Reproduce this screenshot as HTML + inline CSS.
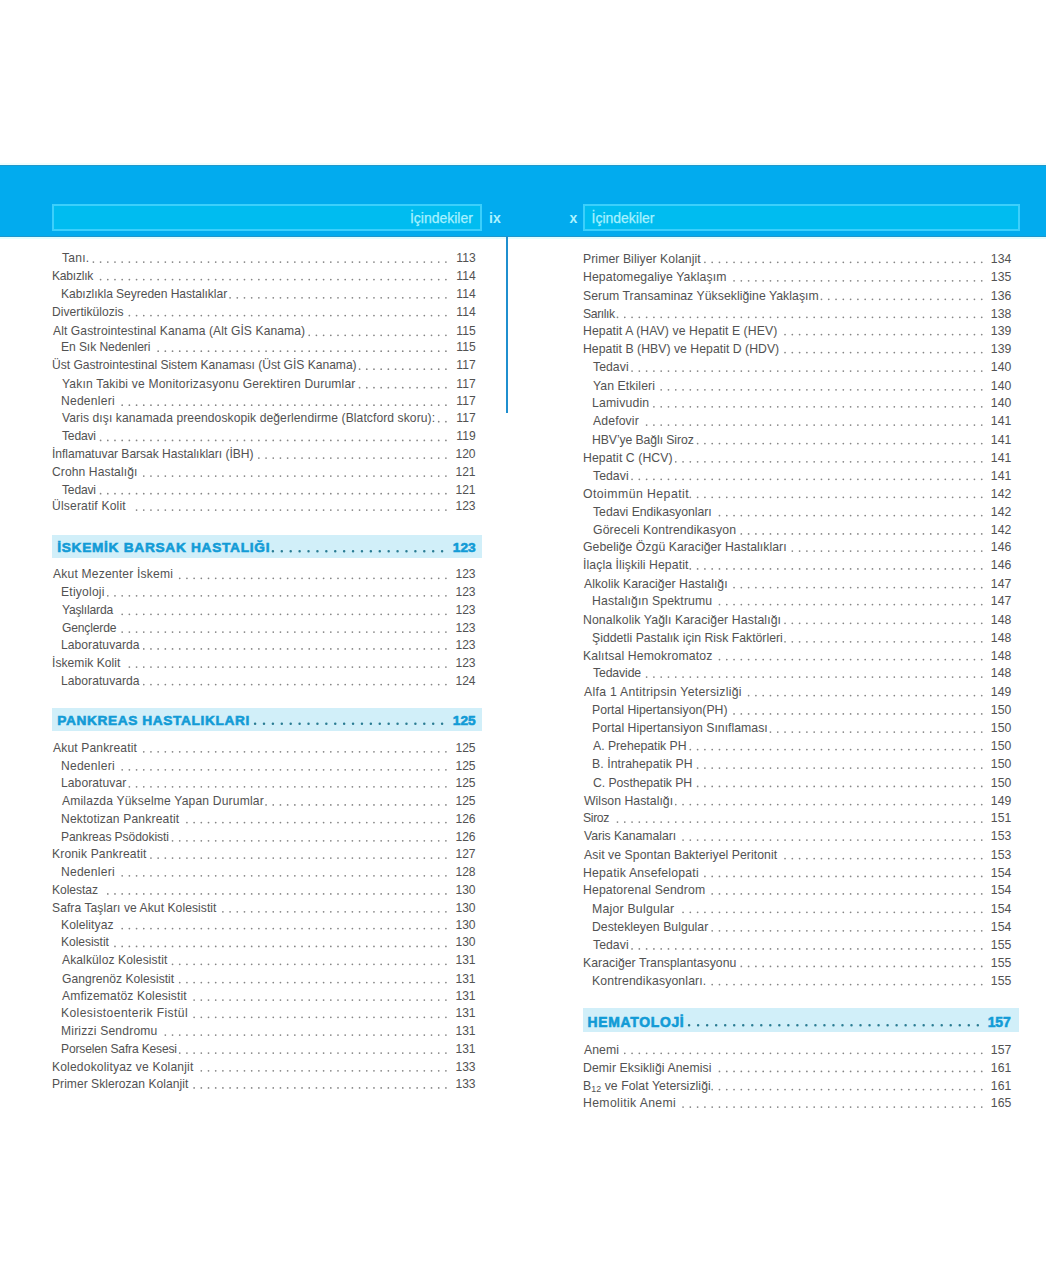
<!DOCTYPE html>
<html lang="tr"><head><meta charset="utf-8"><title>İçindekiler</title>
<style>
html,body{margin:0;padding:0;background:#fff;}
body{width:1046px;height:1280px;position:relative;overflow:hidden;font-family:"Liberation Sans",Arial,sans-serif;color:#525252;}
.band{position:absolute;left:0;top:165px;width:1046px;height:71.5px;background:#02abee;border-top:1px solid #2198cb;border-bottom:1px solid #1f96cc;box-sizing:border-box;box-shadow:0 -2px 0 #effefe,0 2px 0 #e4fdfe;}
.box{position:absolute;top:204px;height:27px;box-sizing:border-box;border:2px solid #3ccffb;background:#00bcf0;}
.ic{position:absolute;font-size:14px;color:#a6f1ff;-webkit-text-stroke:0.25px #a6f1ff;line-height:16px;white-space:nowrap;}
.pn{position:absolute;font-weight:bold;font-size:14px;color:#aef4ff;line-height:16px;}
.vl{position:absolute;left:506px;top:236px;width:2px;height:177px;background:#1f8fcf;}
.t,.h{position:absolute;line-height:1.117;white-space:nowrap;}
.h{font-weight:bold;color:#129bd6;-webkit-text-stroke:0.6px #129bd6;}
.hb{position:absolute;background:#d1eff9;}
svg.dots{position:absolute;left:0;top:0;}
svg.dots line{stroke:#858585;stroke-width:1.75;stroke-linecap:round;}
svg.dots line.hd{stroke:#2a7c93;stroke-width:2.5;}
sub{font-size:0.72em;vertical-align:-2px;line-height:0;}
</style></head><body>
<div class="band"></div>
<div class="box" style="left:52px;width:430px"></div>
<div class="box" style="left:583px;width:437px"></div>
<div class="ic" style="right:573.1px;top:210px">İçindekiler</div>
<div class="pn" style="left:489px;top:210px">ix</div>
<div class="pn" style="left:569.5px;top:210px">x</div>
<div class="ic" style="left:591.5px;top:210px">İçindekiler</div>
<div class="vl"></div>
<div class="hb" style="left:52.4px;top:534.8px;width:429.9px;height:23.2px"></div>
<div class="hb" style="left:52.4px;top:708.0px;width:429.9px;height:22.8px"></div>
<div class="hb" style="left:582.7px;top:1008.2px;width:436.3px;height:23.6px"></div>
<svg class="dots" width="1046" height="1280" viewBox="0 0 1046 1280">
<line x1="93.40" x2="445.95" y1="262.00" y2="262.00" stroke-dasharray="0 7.194"/>
<line x1="100.59" x2="445.95" y1="279.50" y2="279.50" stroke-dasharray="0 7.194"/>
<line x1="230.09" x2="445.95" y1="297.80" y2="297.80" stroke-dasharray="0 7.194"/>
<line x1="129.37" x2="445.95" y1="315.60" y2="315.60" stroke-dasharray="0 7.194"/>
<line x1="309.22" x2="445.95" y1="335.30" y2="335.30" stroke-dasharray="0 7.194"/>
<line x1="158.15" x2="445.95" y1="351.20" y2="351.20" stroke-dasharray="0 7.194"/>
<line x1="359.58" x2="445.95" y1="369.20" y2="369.20" stroke-dasharray="0 7.194"/>
<line x1="359.58" x2="445.95" y1="387.70" y2="387.70" stroke-dasharray="0 7.194"/>
<line x1="122.18" x2="445.95" y1="405.20" y2="405.20" stroke-dasharray="0 7.194"/>
<line x1="438.71" x2="445.95" y1="421.70" y2="421.70" stroke-dasharray="0 7.194"/>
<line x1="100.59" x2="445.95" y1="440.40" y2="440.40" stroke-dasharray="0 7.194"/>
<line x1="258.86" x2="445.95" y1="458.00" y2="458.00" stroke-dasharray="0 7.194"/>
<line x1="143.76" x2="445.95" y1="476.10" y2="476.10" stroke-dasharray="0 7.194"/>
<line x1="100.59" x2="445.95" y1="493.70" y2="493.70" stroke-dasharray="0 7.194"/>
<line x1="136.56" x2="445.95" y1="510.10" y2="510.10" stroke-dasharray="0 7.194"/>
<line class="hd" x1="272.90" x2="442.15" y1="551.30" y2="551.30" stroke-dasharray="0 8.905"/>
<line x1="179.73" x2="445.95" y1="578.25" y2="578.25" stroke-dasharray="0 7.194"/>
<line x1="107.79" x2="445.95" y1="595.75" y2="595.75" stroke-dasharray="0 7.194"/>
<line x1="122.18" x2="445.95" y1="614.25" y2="614.25" stroke-dasharray="0 7.194"/>
<line x1="122.18" x2="445.95" y1="632.00" y2="632.00" stroke-dasharray="0 7.194"/>
<line x1="143.76" x2="445.95" y1="648.90" y2="648.90" stroke-dasharray="0 7.194"/>
<line x1="129.37" x2="445.95" y1="667.00" y2="667.00" stroke-dasharray="0 7.194"/>
<line x1="143.76" x2="445.95" y1="684.50" y2="684.50" stroke-dasharray="0 7.194"/>
<line class="hd" x1="255.09" x2="442.15" y1="723.75" y2="723.75" stroke-dasharray="0 8.905"/>
<line x1="143.76" x2="445.95" y1="751.75" y2="751.75" stroke-dasharray="0 7.194"/>
<line x1="122.18" x2="445.95" y1="769.75" y2="769.75" stroke-dasharray="0 7.194"/>
<line x1="129.37" x2="445.95" y1="786.75" y2="786.75" stroke-dasharray="0 7.194"/>
<line x1="266.06" x2="445.95" y1="804.90" y2="804.90" stroke-dasharray="0 7.194"/>
<line x1="186.92" x2="445.95" y1="822.60" y2="822.60" stroke-dasharray="0 7.194"/>
<line x1="172.53" x2="445.95" y1="840.75" y2="840.75" stroke-dasharray="0 7.194"/>
<line x1="150.95" x2="445.95" y1="858.00" y2="858.00" stroke-dasharray="0 7.194"/>
<line x1="122.18" x2="445.95" y1="875.75" y2="875.75" stroke-dasharray="0 7.194"/>
<line x1="107.79" x2="445.95" y1="893.90" y2="893.90" stroke-dasharray="0 7.194"/>
<line x1="222.89" x2="445.95" y1="911.75" y2="911.75" stroke-dasharray="0 7.194"/>
<line x1="122.18" x2="445.95" y1="928.60" y2="928.60" stroke-dasharray="0 7.194"/>
<line x1="114.98" x2="445.95" y1="946.40" y2="946.40" stroke-dasharray="0 7.194"/>
<line x1="172.53" x2="445.95" y1="964.25" y2="964.25" stroke-dasharray="0 7.194"/>
<line x1="179.73" x2="445.95" y1="982.50" y2="982.50" stroke-dasharray="0 7.194"/>
<line x1="194.12" x2="445.95" y1="1000.10" y2="1000.10" stroke-dasharray="0 7.194"/>
<line x1="194.12" x2="445.95" y1="1017.25" y2="1017.25" stroke-dasharray="0 7.194"/>
<line x1="165.34" x2="445.95" y1="1035.10" y2="1035.10" stroke-dasharray="0 7.194"/>
<line x1="179.73" x2="445.95" y1="1053.00" y2="1053.00" stroke-dasharray="0 7.194"/>
<line x1="201.31" x2="445.95" y1="1070.75" y2="1070.75" stroke-dasharray="0 7.194"/>
<line x1="194.12" x2="445.95" y1="1087.90" y2="1087.90" stroke-dasharray="0 7.194"/>
<line x1="704.90" x2="981.75" y1="262.25" y2="262.25" stroke-dasharray="0 7.285"/>
<line x1="734.04" x2="981.75" y1="280.75" y2="280.75" stroke-dasharray="0 7.285"/>
<line x1="821.46" x2="981.75" y1="299.25" y2="299.25" stroke-dasharray="0 7.285"/>
<line x1="617.48" x2="981.75" y1="317.25" y2="317.25" stroke-dasharray="0 7.285"/>
<line x1="785.03" x2="981.75" y1="334.50" y2="334.50" stroke-dasharray="0 7.285"/>
<line x1="785.03" x2="981.75" y1="352.60" y2="352.60" stroke-dasharray="0 7.285"/>
<line x1="632.05" x2="981.75" y1="371.00" y2="371.00" stroke-dasharray="0 7.285"/>
<line x1="661.19" x2="981.75" y1="389.75" y2="389.75" stroke-dasharray="0 7.285"/>
<line x1="653.91" x2="981.75" y1="406.75" y2="406.75" stroke-dasharray="0 7.285"/>
<line x1="646.62" x2="981.75" y1="425.10" y2="425.10" stroke-dasharray="0 7.285"/>
<line x1="697.62" x2="981.75" y1="443.50" y2="443.50" stroke-dasharray="0 7.285"/>
<line x1="675.76" x2="981.75" y1="461.75" y2="461.75" stroke-dasharray="0 7.285"/>
<line x1="632.05" x2="981.75" y1="479.25" y2="479.25" stroke-dasharray="0 7.285"/>
<line x1="690.33" x2="981.75" y1="497.25" y2="497.25" stroke-dasharray="0 7.285"/>
<line x1="719.47" x2="981.75" y1="515.50" y2="515.50" stroke-dasharray="0 7.285"/>
<line x1="741.32" x2="981.75" y1="533.90" y2="533.90" stroke-dasharray="0 7.285"/>
<line x1="792.32" x2="981.75" y1="551.00" y2="551.00" stroke-dasharray="0 7.285"/>
<line x1="690.33" x2="981.75" y1="568.90" y2="568.90" stroke-dasharray="0 7.285"/>
<line x1="734.04" x2="981.75" y1="587.60" y2="587.60" stroke-dasharray="0 7.285"/>
<line x1="719.47" x2="981.75" y1="604.50" y2="604.50" stroke-dasharray="0 7.285"/>
<line x1="785.03" x2="981.75" y1="623.25" y2="623.25" stroke-dasharray="0 7.285"/>
<line x1="785.03" x2="981.75" y1="641.75" y2="641.75" stroke-dasharray="0 7.285"/>
<line x1="719.47" x2="981.75" y1="659.50" y2="659.50" stroke-dasharray="0 7.285"/>
<line x1="646.62" x2="981.75" y1="677.00" y2="677.00" stroke-dasharray="0 7.285"/>
<line x1="748.61" x2="981.75" y1="695.50" y2="695.50" stroke-dasharray="0 7.285"/>
<line x1="734.04" x2="981.75" y1="713.90" y2="713.90" stroke-dasharray="0 7.285"/>
<line x1="770.46" x2="981.75" y1="732.00" y2="732.00" stroke-dasharray="0 7.285"/>
<line x1="690.33" x2="981.75" y1="749.50" y2="749.50" stroke-dasharray="0 7.285"/>
<line x1="697.62" x2="981.75" y1="768.00" y2="768.00" stroke-dasharray="0 7.285"/>
<line x1="697.62" x2="981.75" y1="786.40" y2="786.40" stroke-dasharray="0 7.285"/>
<line x1="675.76" x2="981.75" y1="804.50" y2="804.50" stroke-dasharray="0 7.285"/>
<line x1="617.48" x2="981.75" y1="822.00" y2="822.00" stroke-dasharray="0 7.285"/>
<line x1="683.05" x2="981.75" y1="840.10" y2="840.10" stroke-dasharray="0 7.285"/>
<line x1="785.03" x2="981.75" y1="858.50" y2="858.50" stroke-dasharray="0 7.285"/>
<line x1="704.90" x2="981.75" y1="876.40" y2="876.40" stroke-dasharray="0 7.285"/>
<line x1="712.18" x2="981.75" y1="893.90" y2="893.90" stroke-dasharray="0 7.285"/>
<line x1="683.05" x2="981.75" y1="912.25" y2="912.25" stroke-dasharray="0 7.285"/>
<line x1="712.18" x2="981.75" y1="930.75" y2="930.75" stroke-dasharray="0 7.285"/>
<line x1="632.05" x2="981.75" y1="948.90" y2="948.90" stroke-dasharray="0 7.285"/>
<line x1="741.32" x2="981.75" y1="966.40" y2="966.40" stroke-dasharray="0 7.285"/>
<line x1="712.18" x2="981.75" y1="984.50" y2="984.50" stroke-dasharray="0 7.285"/>
<line class="hd" x1="689.10" x2="977.85" y1="1025.25" y2="1025.25" stroke-dasharray="0 9.022"/>
<line x1="624.77" x2="981.75" y1="1053.25" y2="1053.25" stroke-dasharray="0 7.285"/>
<line x1="719.47" x2="981.75" y1="1071.40" y2="1071.40" stroke-dasharray="0 7.285"/>
<line x1="712.18" x2="981.75" y1="1089.50" y2="1089.50" stroke-dasharray="0 7.285"/>
<line x1="683.05" x2="981.75" y1="1107.00" y2="1107.00" stroke-dasharray="0 7.285"/>
</svg>
<div class="t" id="L0" style="left:62.00px;top:252.00px;font-size:12.1px;letter-spacing:0.250px">Tanı.</div>
<div class="t n" style="right:570.40px;top:252.00px;font-size:12.1px">113</div>
<div class="t" id="L1" style="left:52.00px;top:269.50px;font-size:12.1px;letter-spacing:-0.243px">Kabızlık</div>
<div class="t n" style="right:570.40px;top:269.50px;font-size:12.1px">114</div>
<div class="t" id="L2" style="left:61.00px;top:287.80px;font-size:12.1px;letter-spacing:-0.063px">Kabızlıkla Seyreden Hastalıklar</div>
<div class="t n" style="right:570.40px;top:287.80px;font-size:12.1px">114</div>
<div class="t" id="L3" style="left:52.00px;top:305.60px;font-size:12.1px;letter-spacing:0.031px">Divertikülozis</div>
<div class="t n" style="right:570.40px;top:305.60px;font-size:12.1px">114</div>
<div class="t" id="L4" style="left:53.00px;top:325.30px;font-size:12.1px;letter-spacing:0.095px">Alt Gastrointestinal Kanama (Alt GİS Kanama)</div>
<div class="t n" style="right:570.40px;top:325.30px;font-size:12.1px">115</div>
<div class="t" id="L5" style="left:61.00px;top:341.20px;font-size:12.1px;letter-spacing:-0.087px">En Sık Nedenleri</div>
<div class="t n" style="right:570.40px;top:341.20px;font-size:12.1px">115</div>
<div class="t" id="L6" style="left:52.00px;top:359.20px;font-size:12.1px;letter-spacing:-0.023px">Üst Gastrointestinal Sistem Kanaması (Üst GİS Kanama)</div>
<div class="t n" style="right:570.40px;top:359.20px;font-size:12.1px">117</div>
<div class="t" id="L7" style="left:62.00px;top:377.70px;font-size:12.1px;letter-spacing:0.176px">Yakın Takibi ve Monitorizasyonu Gerektiren Durumlar</div>
<div class="t n" style="right:570.40px;top:377.70px;font-size:12.1px">117</div>
<div class="t" id="L8" style="left:61.00px;top:395.20px;font-size:12.1px;letter-spacing:0.225px">Nedenleri</div>
<div class="t n" style="right:570.40px;top:395.20px;font-size:12.1px">117</div>
<div class="t" id="L9" style="left:62.00px;top:411.70px;font-size:12.1px;letter-spacing:0.086px">Varis dışı kanamada preendoskopik değerlendirme (Blatcford skoru):</div>
<div class="t n" style="right:570.40px;top:411.70px;font-size:12.1px">117</div>
<div class="t" id="L10" style="left:62.00px;top:430.40px;font-size:12.1px;letter-spacing:-0.180px">Tedavi</div>
<div class="t n" style="right:570.40px;top:430.40px;font-size:12.1px">119</div>
<div class="t" id="L11" style="left:52.00px;top:448.00px;font-size:12.1px;letter-spacing:-0.041px">İnflamatuvar Barsak Hastalıkları (İBH)</div>
<div class="t n" style="right:570.40px;top:448.00px;font-size:12.1px">120</div>
<div class="t" id="L12" style="left:52.00px;top:466.10px;font-size:12.1px;letter-spacing:0.093px">Crohn Hastalığı</div>
<div class="t n" style="right:570.40px;top:466.10px;font-size:12.1px">121</div>
<div class="t" id="L13" style="left:62.00px;top:483.70px;font-size:12.1px;letter-spacing:-0.180px">Tedavi</div>
<div class="t n" style="right:570.40px;top:483.70px;font-size:12.1px">121</div>
<div class="t" id="L14" style="left:52.00px;top:500.10px;font-size:12.1px;letter-spacing:0.171px">Ülseratif Kolit</div>
<div class="t n" style="right:570.40px;top:500.10px;font-size:12.1px">123</div>
<div class="h" id="L15" style="left:57.19px;top:540.35px;font-size:13.7px;letter-spacing:0.709px">İSKEMİK BARSAK HASTALIĞI</div>
<div class="h n" style="right:570.40px;top:540.35px;font-size:13.7px">123</div>
<div class="t" id="L16" style="left:53.00px;top:568.25px;font-size:12.1px;letter-spacing:0.189px">Akut Mezenter İskemi</div>
<div class="t n" style="right:570.40px;top:568.25px;font-size:12.1px">123</div>
<div class="t" id="L17" style="left:61.00px;top:585.75px;font-size:12.1px;letter-spacing:0.225px">Etiyoloji</div>
<div class="t n" style="right:570.40px;top:585.75px;font-size:12.1px">123</div>
<div class="t" id="L18" style="left:62.00px;top:604.25px;font-size:12.1px;letter-spacing:-0.189px">Yaşlılarda</div>
<div class="t n" style="right:570.40px;top:604.25px;font-size:12.1px">123</div>
<div class="t" id="L19" style="left:62.00px;top:622.00px;font-size:12.1px;letter-spacing:-0.162px">Gençlerde</div>
<div class="t n" style="right:570.40px;top:622.00px;font-size:12.1px">123</div>
<div class="t" id="L20" style="left:61.00px;top:638.90px;font-size:12.1px;letter-spacing:0.050px">Laboratuvarda</div>
<div class="t n" style="right:570.40px;top:638.90px;font-size:12.1px">123</div>
<div class="t" id="L21" style="left:52.00px;top:657.00px;font-size:12.1px;letter-spacing:0.042px">İskemik Kolit</div>
<div class="t n" style="right:570.40px;top:657.00px;font-size:12.1px">123</div>
<div class="t" id="L22" style="left:61.00px;top:674.50px;font-size:12.1px;letter-spacing:0.050px">Laboratuvarda</div>
<div class="t n" style="right:570.40px;top:674.50px;font-size:12.1px">124</div>
<div class="h" id="L23" style="left:57.19px;top:712.80px;font-size:13.7px;letter-spacing:0.615px">PANKREAS HASTALIKLARI</div>
<div class="h n" style="right:570.40px;top:712.80px;font-size:13.7px">125</div>
<div class="t" id="L24" style="left:53.00px;top:741.75px;font-size:12.1px;letter-spacing:0.136px">Akut Pankreatit</div>
<div class="t n" style="right:570.40px;top:741.75px;font-size:12.1px">125</div>
<div class="t" id="L25" style="left:61.00px;top:759.75px;font-size:12.1px;letter-spacing:0.225px">Nedenleri</div>
<div class="t n" style="right:570.40px;top:759.75px;font-size:12.1px">125</div>
<div class="t" id="L26" style="left:61.00px;top:776.75px;font-size:12.1px;letter-spacing:0.070px">Laboratuvar</div>
<div class="t n" style="right:570.40px;top:776.75px;font-size:12.1px">125</div>
<div class="t" id="L27" style="left:62.00px;top:794.90px;font-size:12.1px;letter-spacing:0.177px">Amilazda Yükselme Yapan Durumlar</div>
<div class="t n" style="right:570.40px;top:794.90px;font-size:12.1px">125</div>
<div class="t" id="L28" style="left:61.00px;top:812.60px;font-size:12.1px;letter-spacing:0.160px">Nektotizan Pankreatit</div>
<div class="t n" style="right:570.40px;top:812.60px;font-size:12.1px">126</div>
<div class="t" id="L29" style="left:61.00px;top:830.75px;font-size:12.1px;letter-spacing:-0.094px">Pankreas Psödokisti</div>
<div class="t n" style="right:570.40px;top:830.75px;font-size:12.1px">126</div>
<div class="t" id="L30" style="left:52.00px;top:848.00px;font-size:12.1px;letter-spacing:0.144px">Kronik Pankreatit</div>
<div class="t n" style="right:570.40px;top:848.00px;font-size:12.1px">127</div>
<div class="t" id="L31" style="left:61.00px;top:865.75px;font-size:12.1px;letter-spacing:0.225px">Nedenleri</div>
<div class="t n" style="right:570.40px;top:865.75px;font-size:12.1px">128</div>
<div class="t" id="L32" style="left:52.00px;top:883.90px;font-size:12.1px;letter-spacing:-0.057px">Kolestaz</div>
<div class="t n" style="right:570.40px;top:883.90px;font-size:12.1px">130</div>
<div class="t" id="L33" style="left:52.00px;top:901.75px;font-size:12.1px;letter-spacing:0.065px">Safra Taşları ve Akut Kolesistit</div>
<div class="t n" style="right:570.40px;top:901.75px;font-size:12.1px">130</div>
<div class="t" id="L34" style="left:61.00px;top:918.60px;font-size:12.1px;letter-spacing:0.089px">Kolelityaz</div>
<div class="t n" style="right:570.40px;top:918.60px;font-size:12.1px">130</div>
<div class="t" id="L35" style="left:61.00px;top:936.40px;font-size:12.1px;letter-spacing:-0.056px">Kolesistit</div>
<div class="t n" style="right:570.40px;top:936.40px;font-size:12.1px">130</div>
<div class="t" id="L36" style="left:62.00px;top:954.25px;font-size:12.1px;letter-spacing:0.095px">Akalküloz Kolesistit</div>
<div class="t n" style="right:570.40px;top:954.25px;font-size:12.1px">131</div>
<div class="t" id="L37" style="left:62.00px;top:972.50px;font-size:12.1px;letter-spacing:0.032px">Gangrenöz Kolesistit</div>
<div class="t n" style="right:570.40px;top:972.50px;font-size:12.1px">131</div>
<div class="t" id="L38" style="left:62.00px;top:990.10px;font-size:12.1px;letter-spacing:0.143px">Amfizematöz Kolesistit</div>
<div class="t n" style="right:570.40px;top:990.10px;font-size:12.1px">131</div>
<div class="t" id="L39" style="left:61.00px;top:1007.25px;font-size:12.1px;letter-spacing:0.409px">Kolesistoenterik Fistül</div>
<div class="t n" style="right:570.40px;top:1007.25px;font-size:12.1px">131</div>
<div class="t" id="L40" style="left:61.00px;top:1025.10px;font-size:12.1px;letter-spacing:0.193px">Mirizzi Sendromu</div>
<div class="t n" style="right:570.40px;top:1025.10px;font-size:12.1px">131</div>
<div class="t" id="L41" style="left:61.00px;top:1043.00px;font-size:12.1px;letter-spacing:-0.180px">Porselen Safra Kesesi</div>
<div class="t n" style="right:570.40px;top:1043.00px;font-size:12.1px">131</div>
<div class="t" id="L42" style="left:52.00px;top:1060.75px;font-size:12.1px;letter-spacing:0.164px">Koledokolityaz ve Kolanjit</div>
<div class="t n" style="right:570.40px;top:1060.75px;font-size:12.1px">133</div>
<div class="t" id="L43" style="left:52.00px;top:1077.90px;font-size:12.1px;letter-spacing:0.021px">Primer Sklerozan Kolanjit</div>
<div class="t n" style="right:570.40px;top:1077.90px;font-size:12.1px">133</div>
<div class="t" id="R0" style="left:583.00px;top:252.51px;font-size:12.25px;letter-spacing:0.059px">Primer Biliyer Kolanjit</div>
<div class="t n" style="right:34.70px;top:252.51px;font-size:12.25px">134</div>
<div class="t" id="R1" style="left:583.00px;top:271.01px;font-size:12.25px;letter-spacing:0.100px">Hepatomegaliye Yaklaşım</div>
<div class="t n" style="right:34.70px;top:271.01px;font-size:12.25px">135</div>
<div class="t" id="R2" style="left:583.00px;top:289.51px;font-size:12.25px;letter-spacing:0.039px">Serum Transaminaz Yüksekliğine Yaklaşım</div>
<div class="t n" style="right:34.70px;top:289.51px;font-size:12.25px">136</div>
<div class="t" id="R3" style="left:583.00px;top:307.51px;font-size:12.25px;letter-spacing:-0.417px">Sarılık</div>
<div class="t n" style="right:34.70px;top:307.51px;font-size:12.25px">138</div>
<div class="t" id="R4" style="left:583.00px;top:324.76px;font-size:12.25px;letter-spacing:0.076px">Hepatit A (HAV) ve Hepatit E (HEV)</div>
<div class="t n" style="right:34.70px;top:324.76px;font-size:12.25px">139</div>
<div class="t" id="R5" style="left:583.00px;top:342.86px;font-size:12.25px;letter-spacing:0.024px">Hepatit B (HBV) ve Hepatit D (HDV)</div>
<div class="t n" style="right:34.70px;top:342.86px;font-size:12.25px">139</div>
<div class="t" id="R6" style="left:593.00px;top:361.26px;font-size:12.25px;letter-spacing:0.040px">Tedavi</div>
<div class="t n" style="right:34.70px;top:361.26px;font-size:12.25px">140</div>
<div class="t" id="R7" style="left:593.00px;top:380.01px;font-size:12.25px;letter-spacing:0.082px">Yan Etkileri</div>
<div class="t n" style="right:34.70px;top:380.01px;font-size:12.25px">140</div>
<div class="t" id="R8" style="left:592.00px;top:397.01px;font-size:12.25px;letter-spacing:0.162px">Lamivudin</div>
<div class="t n" style="right:34.70px;top:397.01px;font-size:12.25px">140</div>
<div class="t" id="R9" style="left:593.00px;top:415.36px;font-size:12.25px;letter-spacing:0.114px">Adefovir</div>
<div class="t n" style="right:34.70px;top:415.36px;font-size:12.25px">141</div>
<div class="t" id="R10" style="left:592.00px;top:433.76px;font-size:12.25px;letter-spacing:-0.100px">HBV’ye Bağlı Siroz</div>
<div class="t n" style="right:34.70px;top:433.76px;font-size:12.25px">141</div>
<div class="t" id="R11" style="left:583.00px;top:452.01px;font-size:12.25px;letter-spacing:0.079px">Hepatit C (HCV)</div>
<div class="t n" style="right:34.70px;top:452.01px;font-size:12.25px">141</div>
<div class="t" id="R12" style="left:593.00px;top:469.51px;font-size:12.25px;letter-spacing:0.040px">Tedavi</div>
<div class="t n" style="right:34.70px;top:469.51px;font-size:12.25px">141</div>
<div class="t" id="R13" style="left:583.00px;top:487.51px;font-size:12.25px;letter-spacing:0.460px">Otoimmün Hepatit</div>
<div class="t n" style="right:34.70px;top:487.51px;font-size:12.25px">142</div>
<div class="t" id="R14" style="left:593.00px;top:505.76px;font-size:12.25px;letter-spacing:-0.025px">Tedavi Endikasyonları</div>
<div class="t n" style="right:34.70px;top:505.76px;font-size:12.25px">142</div>
<div class="t" id="R15" style="left:593.00px;top:524.16px;font-size:12.25px;letter-spacing:0.117px">Göreceli Kontrendikasyon</div>
<div class="t n" style="right:34.70px;top:524.16px;font-size:12.25px">142</div>
<div class="t" id="R16" style="left:583.00px;top:541.26px;font-size:12.25px;letter-spacing:0.040px">Gebeliğe Özgü Karaciğer Hastalıkları</div>
<div class="t n" style="right:34.70px;top:541.26px;font-size:12.25px">146</div>
<div class="t" id="R17" style="left:583.00px;top:559.16px;font-size:12.25px;letter-spacing:0.086px">İlaçla İlişkili Hepatit</div>
<div class="t n" style="right:34.70px;top:559.16px;font-size:12.25px">146</div>
<div class="t" id="R18" style="left:584.00px;top:577.86px;font-size:12.25px;letter-spacing:0.023px">Alkolik Karaciğer Hastalığı</div>
<div class="t n" style="right:34.70px;top:577.86px;font-size:12.25px">147</div>
<div class="t" id="R19" style="left:592.00px;top:594.76px;font-size:12.25px;letter-spacing:0.126px">Hastalığın Spektrumu</div>
<div class="t n" style="right:34.70px;top:594.76px;font-size:12.25px">147</div>
<div class="t" id="R20" style="left:583.00px;top:613.51px;font-size:12.25px;letter-spacing:0.106px">Nonalkolik Yağlı Karaciğer Hastalığı</div>
<div class="t n" style="right:34.70px;top:613.51px;font-size:12.25px">148</div>
<div class="t" id="R21" style="left:592.00px;top:632.01px;font-size:12.25px;letter-spacing:0.005px">Şiddetli Pastalık için Risk Faktörleri</div>
<div class="t n" style="right:34.70px;top:632.01px;font-size:12.25px">148</div>
<div class="t" id="R22" style="left:583.00px;top:649.76px;font-size:12.25px;letter-spacing:0.135px">Kalıtsal Hemokromatoz</div>
<div class="t n" style="right:34.70px;top:649.76px;font-size:12.25px">148</div>
<div class="t" id="R23" style="left:593.00px;top:667.26px;font-size:12.25px;letter-spacing:-0.129px">Tedavide</div>
<div class="t n" style="right:34.70px;top:667.26px;font-size:12.25px">148</div>
<div class="t" id="R24" style="left:584.00px;top:685.76px;font-size:12.25px;letter-spacing:0.280px">Alfa 1 Antitripsin Yetersizliği</div>
<div class="t n" style="right:34.70px;top:685.76px;font-size:12.25px">149</div>
<div class="t" id="R25" style="left:592.00px;top:704.16px;font-size:12.25px">Portal Hipertansiyon(PH)</div>
<div class="t n" style="right:34.70px;top:704.16px;font-size:12.25px">150</div>
<div class="t" id="R26" style="left:592.00px;top:722.26px;font-size:12.25px;letter-spacing:0.023px">Portal Hipertansiyon Sınıflaması</div>
<div class="t n" style="right:34.70px;top:722.26px;font-size:12.25px">150</div>
<div class="t" id="R27" style="left:593.00px;top:739.76px;font-size:12.25px;letter-spacing:-0.027px">A. Prehepatik PH</div>
<div class="t n" style="right:34.70px;top:739.76px;font-size:12.25px">150</div>
<div class="t" id="R28" style="left:592.00px;top:758.26px;font-size:12.25px;letter-spacing:0.065px">B. İntrahepatik PH</div>
<div class="t n" style="right:34.70px;top:758.26px;font-size:12.25px">150</div>
<div class="t" id="R29" style="left:593.00px;top:776.66px;font-size:12.25px;letter-spacing:-0.056px">C. Posthepatik PH</div>
<div class="t n" style="right:34.70px;top:776.66px;font-size:12.25px">150</div>
<div class="t" id="R30" style="left:584.00px;top:794.76px;font-size:12.25px;letter-spacing:0.040px">Wilson Hastalığı</div>
<div class="t n" style="right:34.70px;top:794.76px;font-size:12.25px">149</div>
<div class="t" id="R31" style="left:583.00px;top:812.26px;font-size:12.25px;letter-spacing:-0.375px">Siroz</div>
<div class="t n" style="right:34.70px;top:812.26px;font-size:12.25px">151</div>
<div class="t" id="R32" style="left:584.00px;top:830.36px;font-size:12.25px;letter-spacing:-0.067px">Varis Kanamaları</div>
<div class="t n" style="right:34.70px;top:830.36px;font-size:12.25px">153</div>
<div class="t" id="R33" style="left:584.00px;top:848.76px;font-size:12.25px;letter-spacing:0.051px">Asit ve Spontan Bakteriyel Peritonit</div>
<div class="t n" style="right:34.70px;top:848.76px;font-size:12.25px">153</div>
<div class="t" id="R34" style="left:583.00px;top:866.66px;font-size:12.25px;letter-spacing:0.211px">Hepatik Ansefelopati</div>
<div class="t n" style="right:34.70px;top:866.66px;font-size:12.25px">154</div>
<div class="t" id="R35" style="left:583.00px;top:884.16px;font-size:12.25px;letter-spacing:0.128px">Hepatorenal Sendrom</div>
<div class="t n" style="right:34.70px;top:884.16px;font-size:12.25px">154</div>
<div class="t" id="R36" style="left:592.00px;top:902.51px;font-size:12.25px;letter-spacing:0.238px">Major Bulgular</div>
<div class="t n" style="right:34.70px;top:902.51px;font-size:12.25px">154</div>
<div class="t" id="R37" style="left:592.00px;top:921.01px;font-size:12.25px;letter-spacing:0.026px">Destekleyen Bulgular</div>
<div class="t n" style="right:34.70px;top:921.01px;font-size:12.25px">154</div>
<div class="t" id="R38" style="left:593.00px;top:939.16px;font-size:12.25px;letter-spacing:0.040px">Tedavi</div>
<div class="t n" style="right:34.70px;top:939.16px;font-size:12.25px">155</div>
<div class="t" id="R39" style="left:583.00px;top:956.66px;font-size:12.25px;letter-spacing:0.032px">Karaciğer Transplantasyonu</div>
<div class="t n" style="right:34.70px;top:956.66px;font-size:12.25px">155</div>
<div class="t" id="R40" style="left:592.00px;top:974.76px;font-size:12.25px;letter-spacing:0.137px">Kontrendikasyonları.</div>
<div class="t n" style="right:34.70px;top:974.76px;font-size:12.25px">155</div>
<div class="h" id="R41" style="left:587.60px;top:1014.52px;font-size:13.9px;letter-spacing:0.700px">HEMATOLOJİ</div>
<div class="h n" style="right:35.20px;top:1014.52px;font-size:13.9px">157</div>
<div class="t" id="R42" style="left:584.00px;top:1043.51px;font-size:12.25px;letter-spacing:0.050px">Anemi</div>
<div class="t n" style="right:34.70px;top:1043.51px;font-size:12.25px">157</div>
<div class="t" id="R43" style="left:583.00px;top:1061.66px;font-size:12.25px;letter-spacing:0.086px">Demir Eksikliği Anemisi</div>
<div class="t n" style="right:34.70px;top:1061.66px;font-size:12.25px">161</div>
<div class="t" id="R44" style="left:583.00px;top:1079.76px;font-size:12.25px;letter-spacing:0.062px">B<sub>12</sub> ve Folat Yetersizliği</div>
<div class="t n" style="right:34.70px;top:1079.76px;font-size:12.25px">161</div>
<div class="t" id="R45" style="left:583.00px;top:1097.26px;font-size:12.25px;letter-spacing:0.357px">Hemolitik Anemi</div>
<div class="t n" style="right:34.70px;top:1097.26px;font-size:12.25px">165</div>
</body></html>
